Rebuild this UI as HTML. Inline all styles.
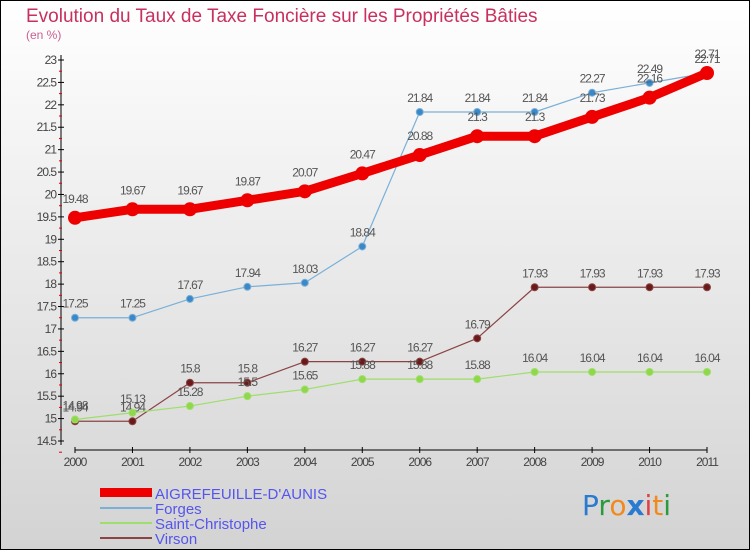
<!DOCTYPE html>
<html><head><meta charset="utf-8"><style>
html,body{margin:0;padding:0}
body{width:750px;height:550px;overflow:hidden;font-family:"Liberation Sans",sans-serif}
</style></head><body>
<svg id="chart" width="750" height="550" xmlns="http://www.w3.org/2000/svg">
<defs><linearGradient id="bg" x1="0" y1="0" x2="0" y2="1"><stop offset="0" stop-color="#ffffff"/><stop offset="1" stop-color="#d3d3d3"/></linearGradient></defs>
<rect x="0.5" y="0.5" width="749" height="549" fill="url(#bg)" stroke="#000"/>
<text x="26" y="22" font-size="19" fill="#c8305f">Evolution du Taux de Taxe Foncière sur les Propriétés Bâties</text>
<text x="26" y="39" font-size="12" fill="#c8608f">(en %)</text>
<g id="axes"></g><g id="series"></g>
<g font-size="15" fill="#5555ee">
<rect x="100" y="488" width="52" height="9" fill="#e00"/>
<text x="155" y="499">AIGREFEUILLE-D'AUNIS</text>
<rect x="100" y="507" width="52" height="2" fill="#7ab0d8"/>
<text x="155" y="514">Forges</text>
<rect x="100" y="522" width="52" height="2" fill="#9ede6a"/>
<text x="155" y="529">Saint-Christophe</text>
<rect x="100" y="537" width="52" height="2" fill="#8b4444"/>
<text x="155" y="544">Virson</text>
</g>
<g font-size="28" font-family="'DejaVu Sans',sans-serif">
<text x="582" y="515"><tspan fill="#2a7ad0">P</tspan><tspan fill="#2a9a3a">r</tspan><tspan fill="#f08a20">o</tspan><tspan fill="#2a7ad0" font-weight="bold">x</tspan><tspan fill="#e04040">i</tspan><tspan fill="#f08a20">t</tspan><tspan fill="#2a9a3a">i</tspan></text>
</g>
</svg>
<script>
const years=[2000,2001,2002,2003,2004,2005,2006,2007,2008,2009,2010,2011];
const aigrefeuille=[19.48,19.67,19.67,19.87,20.07,20.47,20.88,21.3,21.3,21.73,22.16,22.71];
const forges=[17.25,17.25,17.67,17.94,18.03,18.84,21.84,21.84,21.84,22.27,22.49,22.71];
const saintChristophe=[14.98,15.13,15.28,15.5,15.65,15.88,15.88,15.88,16.04,16.04,16.04,16.04];
const virson=[14.94,14.94,15.8,15.8,16.27,16.27,16.27,16.79,17.93,17.93,17.93,17.93];
const yTicks=[14.5,15,15.5,16,16.5,17,17.5,18,18.5,19,19.5,20,20.5,21,21.5,22,22.5,23];
const NS="http://www.w3.org/2000/svg";
const x=i=>75+i*(707-75)/11;
const y=v=>441-(v-14.5)*(441-60)/8.5;
function mk(tag,attrs,parent){const e=document.createElementNS(NS,tag);for(const k in attrs)e.setAttribute(k,attrs[k]);parent.appendChild(e);return e;}
const ax=document.getElementById('axes');
const yl=mk('line',{x1:61,y1:55,x2:61,y2:445,stroke:'#000'},ax);


yTicks.forEach(t=>{
  mk('line',{x1:58,x2:64,y1:y(t),y2:y(t),stroke:'#000'},ax);
  mk('line',{x1:59,x2:62,y1:y(t)+11.2,y2:y(t)+11.2,stroke:'#d00'},ax);
  const tx=mk('text',{x:56,y:y(t)+4,'text-anchor':'end','font-size':12,fill:'#444','letter-spacing':'-1'},ax);
  tx.textContent=String(t);
  
  
});
const xl=mk('line',{x1:75,y1:450,x2:707,y2:450,stroke:'#000'},ax);


years.forEach((yr,i)=>{
  mk('line',{x1:x(i),x2:x(i),y1:447,y2:453,stroke:'#000'},ax);
  const tx=mk('text',{x:x(i),y:466,'text-anchor':'middle','font-size':12,fill:'#444','letter-spacing':'-1'},ax);
  tx.textContent=String(yr);
  
  
});
const sg=document.getElementById('series');
function series(vals,color,width,r,fill,name,dy){
  const g=mk('g',{},sg);
  
  
  mk('polyline',{points:vals.map((v,i)=>x(i)+','+y(v)).join(' '),fill:'none',stroke:color,'stroke-width':width,'stroke-linejoin':'round'},g);
  vals.forEach((v,i)=>{
    const c=mk('circle',{cx:x(i),cy:y(v),r:r,fill:fill,stroke:color,'stroke-width':r>4?0:1},g);
    
    
    const t=mk('text',{x:x(i),y:y(v)+dy,'text-anchor':'middle','font-size':12,fill:'#555','letter-spacing':'-1'},g);
    t.textContent=String(v);
  });
}
series(virson,'#8b4444',1.2,3.5,'#6b1a1a','virson-series',-10);
series(saintChristophe,'#9ede6a',1.2,3.5,'#8ed84a','saint-christophe-series',-10);
series(forges,'#7ab0d8',1.2,3.5,'#3a88c8','forges-series',-10);
series(aigrefeuille,'#e00',9,7,'#e00','aigrefeuille-series',-15);
</script>
</body></html>
